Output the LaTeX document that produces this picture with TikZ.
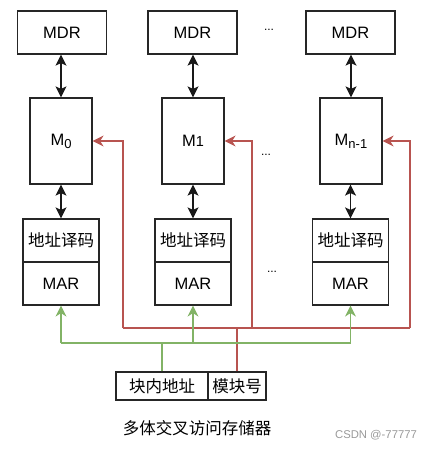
\documentclass[tikz,border=0pt]{standalone}
\usepackage{fontspec}
\setmainfont{Liberation Sans}
\newfontfamily\cjk{Noto Sans CJK SC}
\usetikzlibrary{arrows.meta}
\definecolor{redl}{HTML}{B85450}
\definecolor{greenl}{HTML}{82B366}
\newcommand{\subtxt}[1]{\raisebox{-0.35ex}{\fontsize{13}{13}\selectfont #1}}
\begin{document}
\begin{tikzpicture}[x=1pt,y=-1pt,
  box/.style={draw=black!85,line width=1.2pt,inner sep=0pt,font=\fontsize{16.5}{18}\selectfont},
  mdrbox/.style={box,minimum width=89pt,minimum height=43pt},
  membox/.style={box,minimum width=62pt,minimum height=86pt},
  decbox/.style={box,minimum width=76pt,minimum height=43pt,font=\cjk\fontsize{16.5}{18}\selectfont},
  bibox/.style={line width=1.3pt,black!90,{Stealth[length=11pt,width=11pt,inset=2.5pt]}-{Stealth[length=11pt,width=11pt,inset=2.5pt]}},
  redline/.style={draw=redl,line width=1.2pt},
  greenline/.style={draw=greenl,line width=1.2pt},
  redarrow/.style={redline,-{Stealth[length=11pt,width=11pt,inset=3.5pt]}},
  greenarrow/.style={greenline,-{Stealth[length=11pt,width=11pt,inset=3.5pt]}},
  dotsty/.style={font=\fontsize{12}{12}\selectfont,inner sep=0pt}
]
\useasboundingbox (0,0) rectangle (433,449);
% MDR row
\node[mdrbox] (mdr0) at (62,32.5) {MDR};
\node[mdrbox] (mdr1) at (192.5,32.5) {MDR};
\node[mdrbox] (mdr2) at (350.5,32.5) {MDR};
% memory modules
\node[membox] (m0) at (61,141) {M\subtxt{0}};
\node[membox] (m1) at (193,141) {M{\fontsize{14.5}{15}\selectfont 1}};
\node[membox] (m2) at (351,141) {M\subtxt{n-1}};
% decoders and MAR
\node[decbox] (dec0) at (61,240.5) {地址译码};
\node[decbox,font=\fontsize{16.5}{18}\selectfont] (mar0) at (61,283.5) {MAR};
\node[decbox] (dec1) at (193,240.5) {地址译码};
\node[decbox,font=\fontsize{16.5}{18}\selectfont] (mar1) at (193,283.5) {MAR};
\node[decbox] (dec2) at (350.5,240.5) {地址译码};
\node[decbox,font=\fontsize{16.5}{18}\selectfont] (mar2) at (350.5,283.5) {MAR};
% bottom address register
\node[decbox,minimum width=92pt,minimum height=28pt] (kn) at (162,386) {块内地址};
\node[decbox,minimum width=58pt,minimum height=28pt] (mk) at (237,386) {模块号};
% dots
\node[dotsty] (d1) at (269,30) {...};
\node[dotsty] (d2) at (266,155) {...};
\node[dotsty] (d3) at (272,272) {...};
% black bidirectional arrows
\draw[bibox] (mdr0.south -| m0) -- (m0.north);
\draw[bibox] (mdr1.south -| m1) -- (m1.north);
\draw[bibox] (mdr2.south -| m2) -- (m2.north);
\draw[bibox] (m0.south) -- (dec0.north);
\draw[bibox] (m1.south) -- (dec1.north);
\draw[bibox] (m2.south -| dec2) -- (dec2.north);
% red bus (module number)
\coordinate (rb) at (237,328);
\coordinate (rb0) at (123,328);
\coordinate (rb1) at (252,328);
\coordinate (rb2) at (410,328);
\draw[redline] (mk.north) -- (rb);
\draw[redline] (rb0) -- (rb2);
\draw[redarrow] (rb0) |- (m0.east);
\draw[redarrow] (rb1) |- (m1.east);
\draw[redarrow] (rb2) |- (m2.east);
% green bus (in-block address)
\coordinate (gb) at (162,343);
\draw[greenline] (kn.north) -- (gb);
\draw[greenline] (mar0.south |- gb) -- (mar2.south |- gb);
\draw[greenarrow] (mar0.south |- gb) -- (mar0.south);
\draw[greenarrow] (mar1.south |- gb) -- (mar1.south);
\draw[greenarrow] (mar2.south |- gb) -- (mar2.south);
% caption
\node[font=\cjk\fontsize{16.5}{18}\selectfont,inner sep=0pt] (cap) at (197,428) {多体交叉访问存储器};
\node[font=\fontsize{11.3}{12}\selectfont,text=black!40,inner sep=0pt] (wm) at (376,435) {CSDN @-77777};
\end{tikzpicture}
\end{document}
